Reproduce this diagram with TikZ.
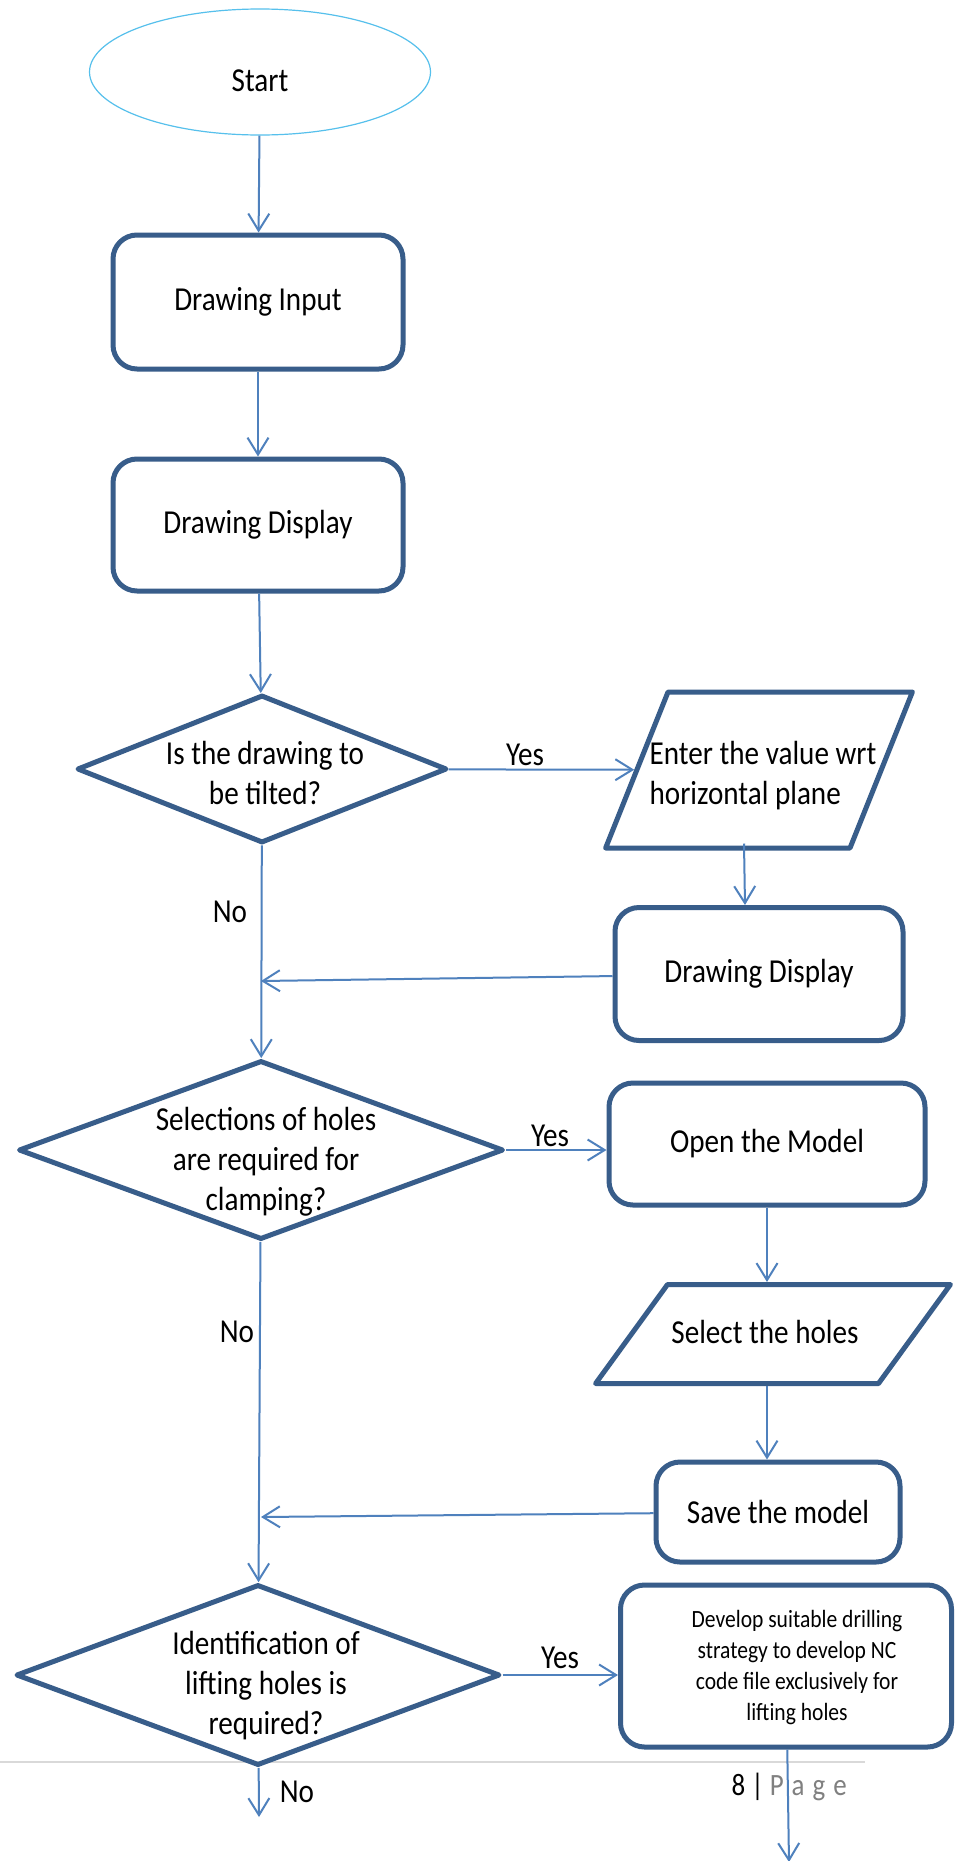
\documentclass[tikz,border=0pt]{standalone}
\usepackage{fontspec}
\setmainfont{Carlito}[FakeStretch=0.87]
\usetikzlibrary{shapes.geometric,arrows.meta}
\definecolor{boxblue}{RGB}{56,93,138}
\definecolor{lineblue}{RGB}{79,129,189}
\definecolor{startcyan}{RGB}{86,192,236}
\definecolor{pagegray}{RGB}{128,128,128}
\definecolor{rulegray}{RGB}{217,217,217}

\begin{document}
\begin{tikzpicture}[x=1pt, y=-1pt, font=\fontsize{33.5}{40}\selectfont,
  proc/.style={draw=boxblue, line width=5pt, rounded corners=24pt, align=center},
  decision/.style={draw=boxblue, diamond, line width=5pt, line join=round, inner sep=0pt},
  io/.style={draw=boxblue, trapezium, line width=5pt, line join=round, inner sep=0pt, text depth=0pt},
  flow/.style={draw=lineblue, line width=2pt, -{Straight Barb[length=17pt,width=21pt]}}]
  \path[use as bounding box, fill=white] (0,0) rectangle (965,1861);
  \draw[rulegray, line width=1.5pt] (0,1762) -- (865,1762);

  \node (start) [ellipse, draw=startcyan, line width=1.2pt, minimum width=341pt, minimum height=126pt] at (260,72) {\raisebox{-9pt}[\height][\depth]{Start}};
  \node (input) [proc, minimum width=290pt, minimum height=134pt] at (258,302) {Drawing Input};
  \node (disp1) [proc, minimum width=290pt, minimum height=132pt] at (258,525) {Drawing Display};
  \node (tilt) [decision, minimum width=370pt, minimum height=148pt] at (262,769) {};
  \node (tilt-q) [align=center] at (265,773) {Is the drawing to\\be tilted?};
  \node (enter) [io, trapezium left angle=68.2, trapezium right angle=111.8, text width=182pt, text height=156pt] at (759,770) {};
  \node (enter-q) [align=left] at (763,776) {Enter the value wrt\\horizontal plane};
  \node (disp2) [proc, minimum width=288pt, minimum height=133pt] at (759,974) {Drawing Display};
  \node (holes) [decision, minimum width=485pt, minimum height=179pt] at (261,1150) {};
  \node (holes-q) [align=center] at (266,1162) {Selections of holes\\are required for\\clamping?};
  \node (model) [proc, minimum width=316pt, minimum height=122pt] at (767,1144) {Open the Model};
  \node (select) [io, trapezium left angle=54, trapezium right angle=126, text width=211pt, text height=99pt] at (773,1334) {};
  \node (select-q) at (765,1332) {Select the holes};
  \node (save) [proc, minimum width=244pt, minimum height=100pt] at (778,1512) {Save the model};
  \node (lift) [decision, minimum width=484pt, minimum height=181pt] at (258,1675) {};
  \node (lift-q) [align=center] at (266,1686) {Identification of\\lifting holes is\\required?};
  \node (dev) [proc, minimum width=331pt, minimum height=162pt] at (786,1666) {};
  \node (dev-q) [align=center, font=\fontsize{24.8}{31}\selectfont] at (797,1667) {Develop suitable drilling\\strategy to develop NC\\code file exclusively for\\lifting holes};

  \node (yes1) at (525,755) {Yes};
  \node (yes2) at (550,1136) {Yes};
  \node (yes3) at (560,1658) {Yes};
  \node (no1) at (230,912) {No};
  \node (no2) at (237,1332) {No};
  \node (no3) at (297,1792) {No};
  \node (page) [anchor=base west, font=\fontsize{31}{36}\selectfont] at (728,1795) {8 | {\color{pagegray}P\hspace{8pt}a\hspace{8pt}g\hspace{8pt}e}};

  \coordinate (j1) at (261,981);
  \coordinate (j2) at (261,1517);
  \coordinate (end1) at (259,1817);
  \coordinate (end2) at (789,1862);

  \draw[flow] (start) -- (input);
  \draw[flow] (input) -- (disp1);
  \draw[flow] (disp1) -- (tilt);
  \draw[flow] (tilt) -- (enter);
  \draw[flow] ([xshift=-15pt,yshift=7pt]enter.south) -- ([xshift=-14pt]disp2.north);
  \draw[flow] (disp2) -- (j1);
  \draw[flow] (tilt) -- (holes);
  \draw[flow] (holes.east) -- (holes.east -| model.west);
  \draw[flow] (model.south) -- (model.south |- select.north);
  \draw[flow] (model.south |- select.south) -- (model.south |- save.north);
  \draw[flow] (save) -- (j2);
  \draw[flow] (holes) -- (lift);
  \draw[flow] (lift.east) -- (lift.east -| dev.west);
  \draw[flow] (lift) -- (end1);
  \draw[flow] (dev) -- (end2);
\end{tikzpicture}
\end{document}
